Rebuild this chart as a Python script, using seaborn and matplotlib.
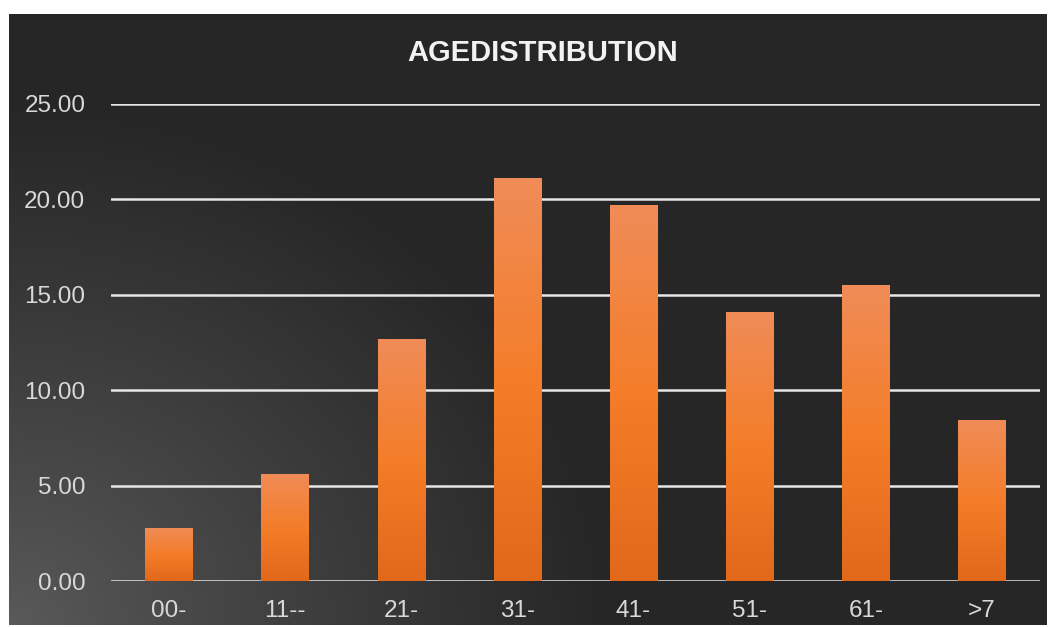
import numpy as np
import pandas as pd
import matplotlib
matplotlib.use("Agg")
import matplotlib.pyplot as plt
import seaborn as sns
from matplotlib.colors import LinearSegmentedColormap

# values
age_groups = ["00-", "11--", "21-", "31-", "41-", "51-", "61-", ">7"]
share = [2.78, 5.61, 12.68, 21.12, 19.71, 14.10, 15.51, 8.44]
y_ticks = [0, 5, 10, 15, 20, 25]

df = pd.DataFrame({"group": age_groups, "share": share})

sns.set_style("dark")
plt.rcParams["font.family"] = ["Liberation Sans", "DejaVu Sans"]

W, H = 1051, 627
fig = plt.figure(figsize=(W / 100, H / 100), dpi=100, facecolor="white")

# dark background with a soft light spot at the bottom-left
bg = fig.add_axes([9 / W, 2 / H, 1038 / W, 611 / H])
bg.set_axis_off()
yy, xx = np.mgrid[0:611, 0:1038]
dist = np.sqrt((xx / 1.0) ** 2 + ((610 - yy) * 1.15) ** 2)
t = np.clip(dist / 600, 0, 1)
light = np.array([0x5a, 0x5a, 0x5a]) / 255
dark = np.array([0x26, 0x26, 0x26]) / 255
img = light[None, None, :] * (1 - t[..., None] ** 0.9) + dark[None, None, :] * (t[..., None] ** 0.9)
bg.imshow(img, aspect="auto", extent=[0, 1, 0, 1], origin="upper")
bg.set_xlim(0, 1)
bg.set_ylim(0, 1)

ax = fig.add_axes([111 / W, (H - 581) / H, 929 / W, 477 / H])
ax.patch.set_alpha(0)

sns.barplot(data=df, x="group", y="share", color="#f47c2a", width=0.41,
            saturation=1, edgecolor="none", linewidth=0, ax=ax, zorder=3)

# vertical gradient inside each bar
bar_cmap = LinearSegmentedColormap.from_list(
    "bar", ["#e2681a", "#f47d29", "#f08c58"])
grad = np.linspace(0, 1, 256).reshape(-1, 1)
for p in ax.patches:
    x0, y0 = p.get_x(), p.get_y()
    w, h = p.get_width(), p.get_height()
    im = ax.imshow(grad, cmap=bar_cmap, origin="lower", aspect="auto",
                   extent=[x0, x0 + w, y0, y0 + h], zorder=4)
    im.set_clip_path(p)

ax.set_xlim(-0.5, len(age_groups) - 0.5)
ax.set_ylim(0, 25)
ax.set_yticks(y_ticks)
ax.set_yticklabels([f"{v:.2f}" for v in y_ticks])
ax.yaxis.grid(True, color="#e6e6e6", linewidth=1.8, zorder=1)
ax.xaxis.grid(False)
ax.set_axisbelow(True)
for s in ax.spines.values():
    s.set_visible(False)
ax.tick_params(axis="both", length=0, labelsize=17.5, labelcolor="#d9d9d9")
ax.tick_params(axis="y", pad=18.5)
ax.tick_params(axis="x", pad=14)
ax.set_xlabel("")
ax.set_ylabel("")

fig.text(543 / W, 1 - 53 / H, "AGEDISTRIBUTION", ha="center", va="center",
         fontsize=21, fontweight="bold", color="#f2f2f2")

fig.savefig("out.png", dpi=100, facecolor=fig.get_facecolor())
